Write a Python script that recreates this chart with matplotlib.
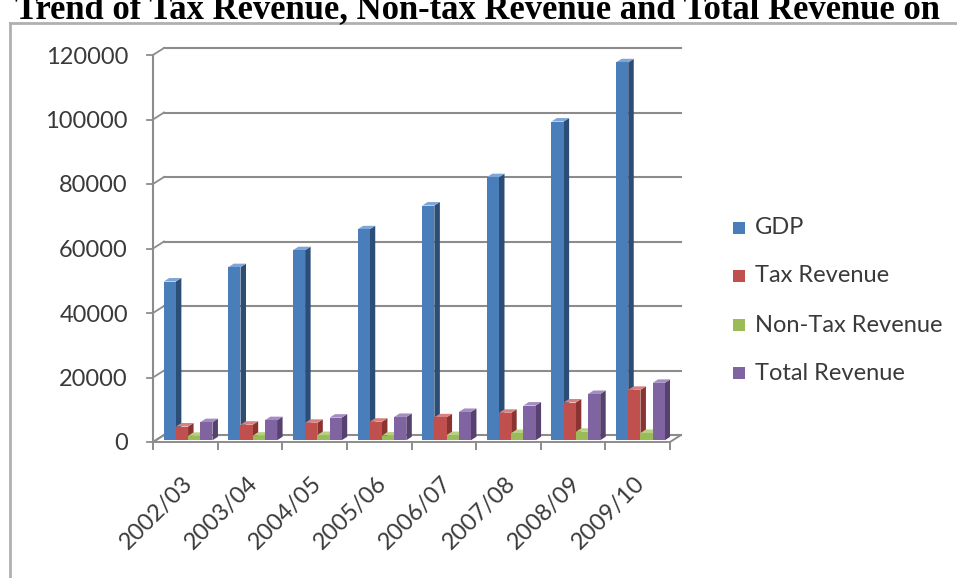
import matplotlib
matplotlib.use("Agg")
import matplotlib.pyplot as plt
from matplotlib.patches import Polygon, Rectangle
from matplotlib.lines import Line2D

# ---- data (Rs in crore) ----
years = ["2002/03", "2003/04", "2004/05", "2005/06", "2006/07", "2007/08", "2008/09", "2009/10"]
gdp = [49223, 53675, 58941, 65408, 72783, 81566, 98827, 117191]
tax_revenue = [4259, 4817, 5410, 5743, 7113, 8516, 11705, 15629]
non_tax_revenue = [1364, 1416, 1618, 1449, 1606, 2220, 2625, 2250]
total_revenue = [5623, 6233, 7012, 7228, 8771, 10762, 14347, 17799]
series_names = ["GDP", "Tax Revenue", "Non-Tax Revenue", "Total Revenue"]
y_ticks = [0, 20000, 40000, 60000, 80000, 100000, 120000]
title = "Trend of Tax Revenue, Non-tax Revenue and Total Revenue on"

series = [gdp, tax_revenue, non_tax_revenue, total_revenue]
# front, side, top shades for each series
shades = [
    ("#4A7EBB", "#2C4D75", "#7FA6D8"),
    ("#C0504D", "#8A3331", "#D9817F"),
    ("#9BBB59", "#6E8A37", "#B8D084"),
    ("#8064A2", "#57416F", "#A58DC3"),
]
grid_col = "#8C8C8C"
text_col = "#3A3A3A"
FONT = ["Lato", "DejaVu Sans"]

W, H, DPI = 957, 578, 100
fig = plt.figure(figsize=(W / DPI, H / DPI), dpi=DPI)
fig.patch.set_facecolor("white")

# front plane of the plot in pixels
x0_px, x1_px = 153, 670
ytop_px, y0_px = 55, 442
ax = fig.add_axes([x0_px / W, (H - y0_px) / H, (x1_px - x0_px) / W, (y0_px - ytop_px) / H])
n = len(years)
ymax = y_ticks[-1]
ax.set_xlim(0, n)
ax.set_ylim(0, ymax)
ax.axis("off")

ux = n / (x1_px - x0_px)          # data units per pixel, x
uy = ymax / (y0_px - ytop_px)     # data units per pixel, y
Dx, Dy = 11 * ux, 7 * uy          # full depth of the 3-D box

# floor
ax.add_patch(Polygon([(0, 0), (n, 0), (n + Dx, Dy), (Dx, Dy)], closed=True,
                     facecolor="white", edgecolor=grid_col, lw=1.4, clip_on=False, zorder=1))
# back-wall gridlines and side-wall diagonals
for v in y_ticks:
    ax.add_line(Line2D([Dx, n + Dx], [v + Dy, v + Dy], color=grid_col, lw=1.5, clip_on=False, zorder=1))
    ax.add_line(Line2D([0, Dx], [v, v + Dy], color=grid_col, lw=1.3, clip_on=False, zorder=1))
    ax.add_line(Line2D([-6 * ux, 0], [v, v], color=grid_col, lw=1.3, clip_on=False, zorder=1))
    ax.text(-25 * ux, v - 2 * uy, f"{v}", ha="right", va="center", fontsize=17,
            color=text_col, family=FONT, clip_on=False)
# front vertical axis
ax.add_line(Line2D([0, 0], [0, ymax], color=grid_col, lw=1.5, clip_on=False, zorder=1))
# category ticks on front floor edge
for i in range(n + 1):
    ax.add_line(Line2D([i, i], [0, -7 * uy], color=grid_col, lw=1.4, clip_on=False, zorder=1))

# bars (3-D columns)
w = 1 / 5.3
f0, f1 = 0.25, 0.75
sx, sy = f0 * Dx, f0 * Dy
bdx, bdy = (f1 - f0) * Dx, (f1 - f0) * Dy
for i in range(n):
    for k, vals in enumerate(series):
        front, side, top = shades[k]
        v = vals[i]
        xl = i + 0.65 / 5.3 + k * w + sx
        xr = xl + w
        yb = sy
        yt = sy + v
        ax.add_patch(Polygon([(xr, yb), (xr + bdx, yb + bdy), (xr + bdx, yt + bdy), (xr, yt)],
                             closed=True, facecolor=side, edgecolor="none", zorder=3))
        ax.add_patch(Polygon([(xl, yt), (xr, yt), (xr + bdx, yt + bdy), (xl + bdx, yt + bdy)],
                             closed=True, facecolor=top, edgecolor="none", zorder=3))
        ax.bar(xl, v, width=w, bottom=yb, align="edge", color=front, edgecolor="none", zorder=3)

# category labels
for i, lab in enumerate(years):
    ax.text(i + 0.5 + 4 * ux, -38 * uy, lab, rotation=45, rotation_mode="anchor",
            ha="right", va="center", fontsize=17, color=text_col, family=FONT, clip_on=False)

# legend
leg_y = [228, 276, 325, 373]
for k, name in enumerate(series_names):
    yc = H - leg_y[k]
    fig.patches.append(Rectangle(((733) / W, (yc - 6) / H), 12 / W, 12 / H,
                                 transform=fig.transFigure, facecolor=shades[k][0],
                                 edgecolor="none", figure=fig))
    fig.text(755 / W, yc / H, name, ha="left", va="center", fontsize=17,
             color=text_col, family=FONT)

# outer frame of the chart object
fig.add_artist(Line2D([10 / W, 1], [(H - 23) / H, (H - 23) / H], transform=fig.transFigure,
                      color="#B0B0B0", lw=2))
fig.add_artist(Line2D([10 / W, 10 / W], [0, (H - 23) / H], transform=fig.transFigure,
                      color="#B0B0B0", lw=2))

# heading, partly cut at the top edge; size chosen to span the width
t = fig.text(15 / W, (H - 18) / H, title, ha="left", va="baseline",
             fontsize=24, fontweight="bold", family=["Liberation Serif", "DejaVu Serif"])
r = fig.canvas.get_renderer()
tw = t.get_window_extent(renderer=r).width
t.set_fontsize(24 * 927 / tw)

fig.savefig("out.png", dpi=DPI, facecolor="white")
